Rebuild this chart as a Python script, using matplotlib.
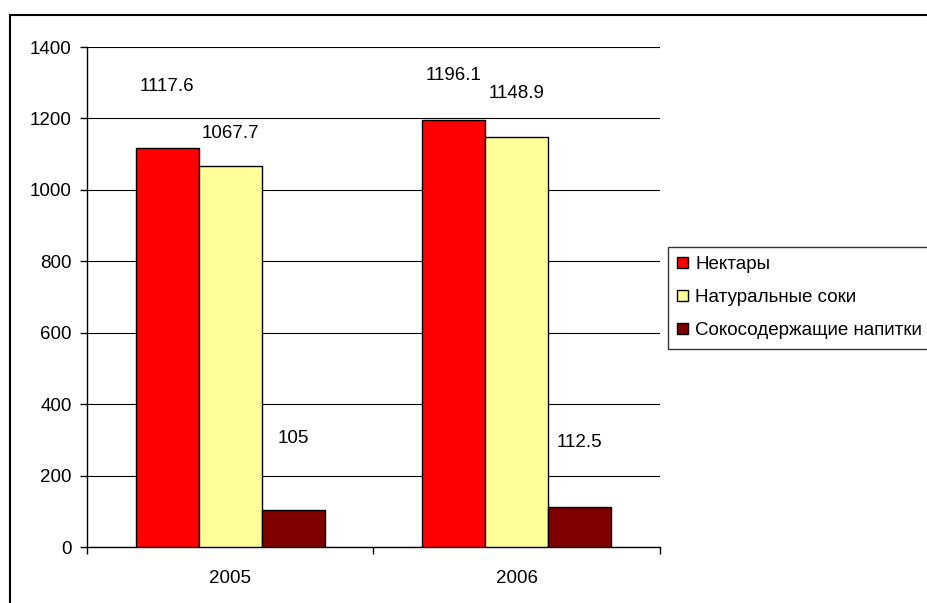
import matplotlib.pyplot as plt
from matplotlib.patches import Rectangle, Patch
import numpy as np

plt.rcParams['font.family'] = ['Liberation Sans', 'DejaVu Sans']

years = ['2005', '2006']
series = ['Нектары', 'Натуральные соки', 'Сокосодержащие напитки']
nectars = [1117.6, 1196.1]
juices = [1067.7, 1148.9]
drinks = [105, 112.5]

colors = ['#FF0000', '#FFFF99', '#800000']
# vertical shift of each value label above its bar top, in points (series x year)
label_lift = [[44, 32], [23, 31], [51, 46]]

fs = 13.5

fig = plt.figure(figsize=(9.28, 6.03), dpi=100)
ax = fig.add_axes([87 / 928, 1 - 547 / 603, (660 - 87) / 928, 500 / 603])

x = np.arange(len(years))
width = 0.22
offsets = [-width, 0, width]
for i, vals in enumerate([nectars, juices, drinks]):
    bars = ax.bar(x + offsets[i], vals, width, color=colors[i],
                  edgecolor='black', linewidth=1, zorder=3)
    for j, b in enumerate(bars):
        ax.annotate(f'{vals[j]:g}', (b.get_x() + b.get_width() / 2, vals[j]),
                    xytext=(0, label_lift[i][j]), textcoords='offset points',
                    ha='center', va='center', fontsize=fs, zorder=4)

ax.set_ylim(0, 1400)
ax.set_yticks(range(0, 1401, 200))
ax.set_xlim(-0.5, 1.5)
ax.yaxis.grid(True, color='black', linewidth=0.8, zorder=0)
ax.set_axisbelow(True)
ax.tick_params(axis='y', length=5, width=1, pad=6, labelsize=fs)

# category boundaries get the tick marks, year labels sit between them
ax.set_xticks([-0.5, 0.5, 1.5])
ax.set_xticklabels([])
ax.set_xticks(x, minor=True)
ax.set_xticklabels(years, minor=True)
ax.tick_params(axis='x', which='major', length=5, width=1)
ax.tick_params(axis='x', which='minor', length=0, pad=16.5, labelsize=fs)

for s in ['top', 'right']:
    ax.spines[s].set_visible(False)
ax.spines['left'].set_linewidth(1)
ax.spines['bottom'].set_linewidth(1)

handles = [Patch(facecolor=c, edgecolor='black', linewidth=1) for c in colors]
leg = fig.legend(handles, series, loc='upper left',
                 bbox_to_anchor=(668 / 928, 1 - 247 / 603), fontsize=fs,
                 frameon=True, fancybox=False, edgecolor='black',
                 handlelength=0.55, handleheight=0.55, handletextpad=0.4,
                 labelspacing=0.85, borderpad=0.5, borderaxespad=0)
leg.get_frame().set_linewidth(1)

# outer chart frame, running off the right and bottom edges
fig.patches.append(Rectangle((10 / 928, -0.1), 1.0, 1.1 - 15 / 603,
                             transform=fig.transFigure, fill=False,
                             edgecolor='black', linewidth=1.5))

fig.savefig('out.png', dpi=100)
